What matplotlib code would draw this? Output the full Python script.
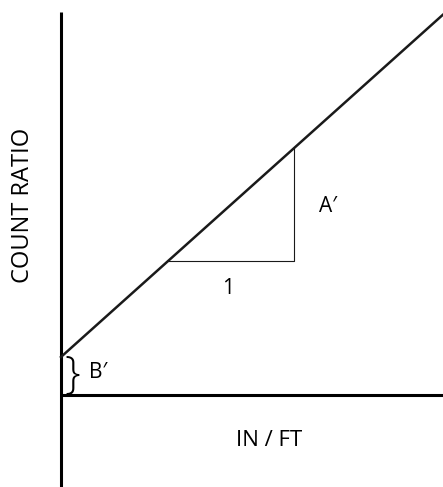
import numpy as np
import matplotlib
matplotlib.use('Agg')
from matplotlib import pyplot as plt

# Linear calibration: count ratio = B' + A' * (in/ft)
b_prime = 1.0
a_prime = 2.97
x_line = np.array([0.0, 3.03])
y_line = b_prime + a_prime * x_line

# slope triangle, run of 1 unit
tri_x0 = 0.85
tri_run = 1.0

x_label = 'IN / FT'
y_label = 'COUNT RATIO'
fam = ['Open Sans', 'DejaVu Sans']


def main():
    fig = plt.figure(figsize=(4.43, 4.87), dpi=100)
    ax = fig.add_axes([0, 0, 1, 1])
    ax.set_xlim(-0.484, 3.032)
    ax.set_ylim(-2.42, 10.39)
    ax.axis('off')

    # axes drawn as plain lines crossing at the origin
    ax.plot([0, 0], [-2.42, 10.08], color='black', lw=2.2, solid_capstyle='butt')
    ax.plot([0, 3.032], [0, 0], color='black', lw=2.2, solid_capstyle='butt')

    # fitted line
    ax.plot(x_line, y_line, color='#1a1a1a', lw=1.8)

    # slope triangle
    tx = np.array([tri_x0, tri_x0 + tri_run, tri_x0 + tri_run])
    ty = b_prime + a_prime * np.array([tri_x0, tri_x0, tri_x0 + tri_run])
    ax.plot(tx, ty, color='#1a1a1a', lw=0.8)

    ax.text(tri_x0 + tri_run / 2 - 0.02, ty[0] - 0.72, '1', fontsize=15, family=fam,
            ha='center', va='center')
    ax.text(tri_x0 + tri_run + 0.27, (ty[0] + ty[2]) / 2 - 0.05, 'A\u2032', fontsize=15,
            family=fam, ha='center', va='center')

    # intercept brace
    ax.text(0.03, b_prime / 2, '}', fontsize=32, family=fam, weight='light',
            ha='left', va='center')
    ax.text(0.22, b_prime / 2 + 0.1, 'B\u2032', fontsize=15, family=fam,
            ha='left', va='center')

    ax.text(1.65, -1.2, x_label, fontsize=16, family=fam, ha='center', va='center')
    ax.text(-0.3, 5.0, y_label, fontsize=17, family=fam, rotation=90,
            ha='center', va='center')

    fig.savefig('out.png', dpi=100)


if __name__ == "__main__":
    main()
